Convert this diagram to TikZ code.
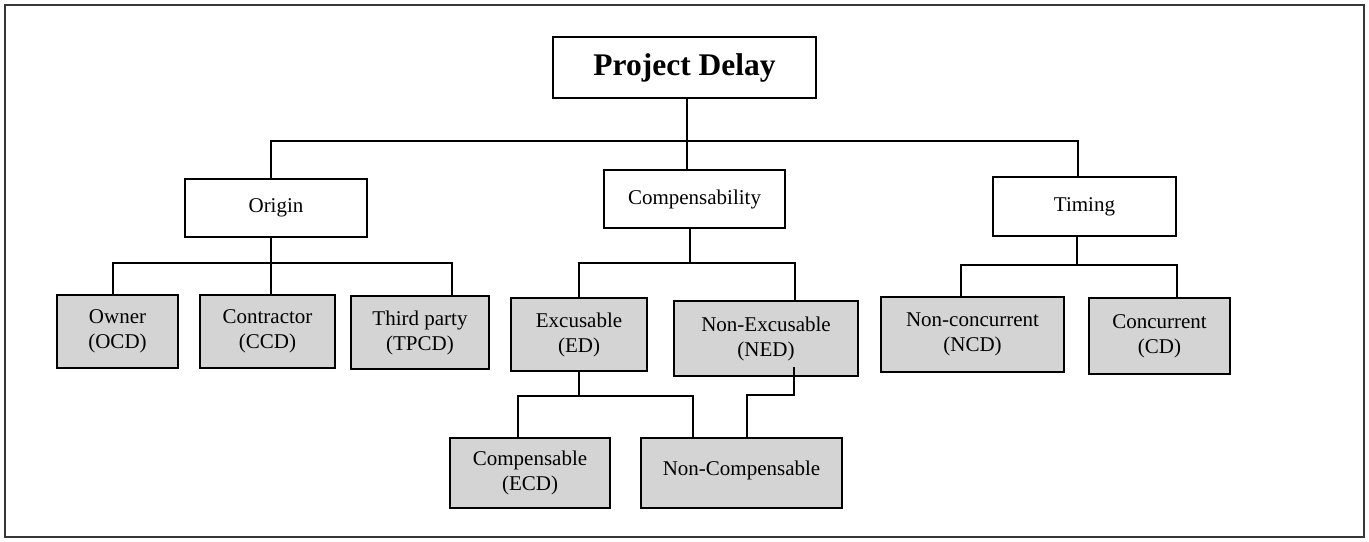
\documentclass[tikz,border=0pt]{standalone}
\usepackage{fontspec}
\setmainfont{Liberation Serif}
\definecolor{shade}{RGB}{212,212,212}
\definecolor{frame}{RGB}{55,55,55}

\begin{document}
\begin{tikzpicture}[x=0.5pt,y=-0.5pt,
  box/.style={draw,line width=0.9pt,inner sep=0pt,align=center,font=\fontsize{10.5}{12.5}\selectfont},
  leaf/.style={box,line width=1.2pt,fill=shade},
  link/.style={line width=0.8pt}]
\useasboundingbox (0,0) rectangle (1369,541);
% frame
\draw[frame,line width=0.6pt] (5,5) rectangle (1364,537);
% root
\node[box,font=\fontsize{15.75}{18}\selectfont\bfseries,minimum width=131.5pt,minimum height=30.5pt] (delay) at (684.5,67.5) {Project Delay};
% criteria
\node[box,minimum width=91pt,minimum height=29pt] (origin) at (276,208) {Origin};
\node[box,minimum width=90.5pt,minimum height=29pt] (comp) at (694.5,199) {Compensability};
\node[box,minimum width=91.5pt,minimum height=29.5pt] (timing) at (1084.5,206.5) {Timing};
% origin leaves
\node[leaf,minimum width=60.5pt,minimum height=36.5pt] (owner) at (117.5,331.5) {Owner\\(OCD)};
\node[leaf,minimum width=67.5pt,minimum height=36.5pt] (contractor) at (267.5,331.5) {Contractor\\(CCD)};
\node[leaf,minimum width=69pt,minimum height=36.5pt] (third) at (420,332.5) {Third party\\(TPCD)};
% compensability leaves
\node[leaf,minimum width=68pt,minimum height=36.5pt] (excusable) at (579,334.5) {Excusable\\(ED)};
\node[leaf,minimum width=92pt,minimum height=37.5pt] (nonexc) at (766,338.5) {Non-Excusable\\(NED)};
\node[leaf,minimum width=80pt,minimum height=35pt] (compens) at (530,473) {Compensable\\(ECD)};
\node[leaf,minimum width=100.5pt,minimum height=35pt] (noncomp) at (741.5,473) {\raisebox{5pt}{Non-Compensable}};
% timing leaves
\node[leaf,minimum width=91.5pt,minimum height=37.5pt] (noncon) at (972.5,334.5) {Non-concurrent\\(NCD)};
\node[leaf,minimum width=70.5pt,minimum height=38pt] (concur) at (1159.5,336) {Concurrent\\(CD)};
% main bus
\coordinate (mbus) at (687,141);
\draw[link] ([xshift=1.25pt]delay.south) -- ([xshift=-3.75pt]comp.north);
\draw[link] ([xshift=-2.5pt]origin.north) |- (mbus) -| ([xshift=-3.25pt]timing.north);
% origin bus
\coordinate (obus) at (271,263);
\draw[link] ([xshift=-2.5pt]origin.south) -- ([xshift=-2.5pt]origin.south |- contractor.north);
\draw[link] ([xshift=-2.25pt]owner.north) |- (obus) -| ([xshift=16pt]third.north);
% compensability bus
\coordinate (cbus) at (690,263);
\draw[link] ([xshift=-2.25pt]comp.south) -- (cbus);
\draw[link] (excusable.north) |- (cbus) -| ([xshift=14.5pt]nonexc.north);
% excusable bus
\coordinate (ebus) at (579,396);
\draw[link] (excusable.south) -- (ebus);
\draw[link] ([xshift=-6pt]compens.north) |- (ebus) -| ([xshift=-24.25pt]noncomp.north);
% non-excusable bus
\coordinate (nbus) at (794,395);
\draw[link] ([xshift=14pt,yshift=5pt]nonexc.south) -- (nbus) -| ([xshift=2.75pt]noncomp.north);
% timing bus
\coordinate (tbus) at (1077,265);
\draw[link] ([xshift=-3.75pt]timing.south) -- (tbus);
\draw[link] ([xshift=-5.75pt]noncon.north) |- (tbus) -| ([xshift=8.75pt]concur.north);
\end{tikzpicture}
\end{document}
